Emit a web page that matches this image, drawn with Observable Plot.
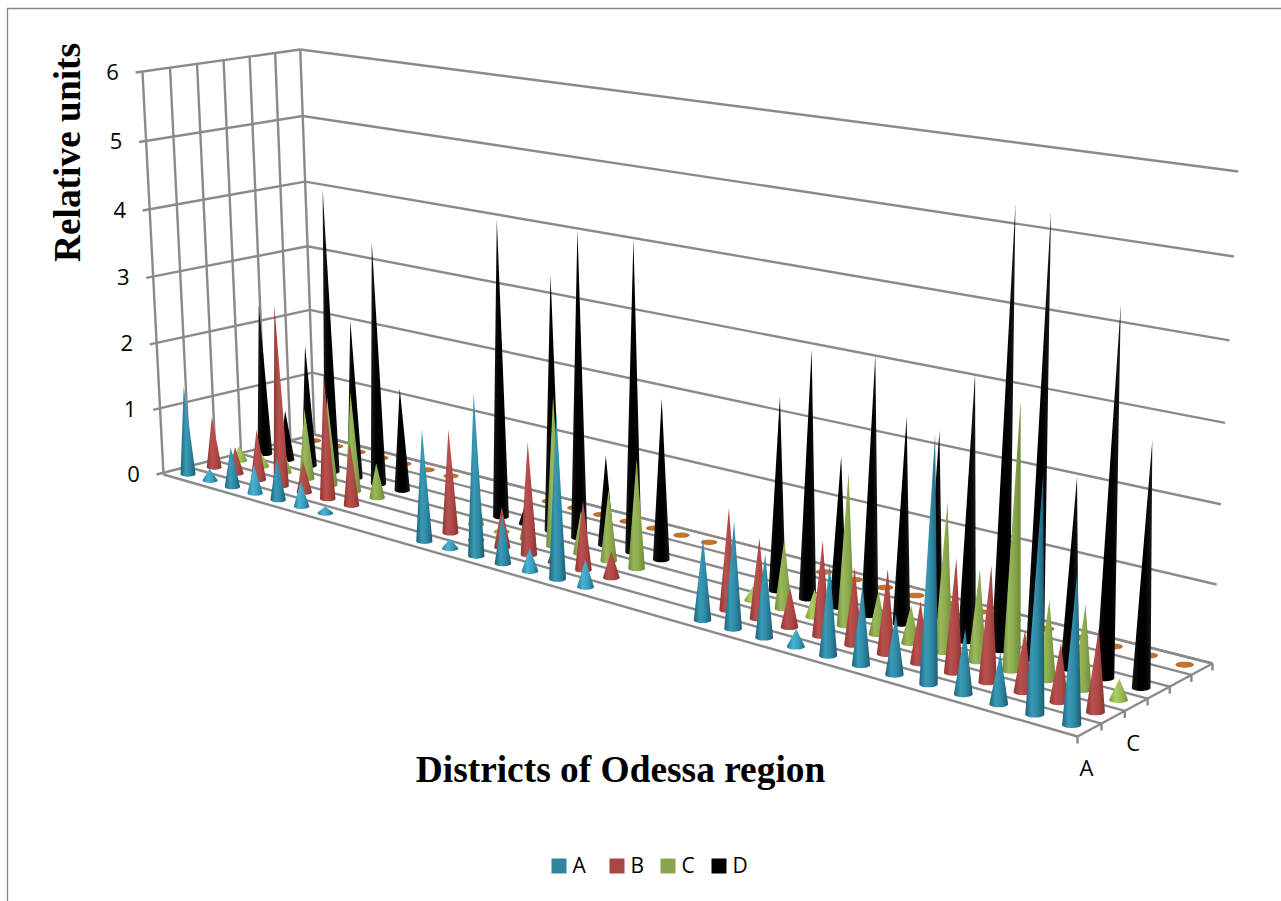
<!DOCTYPE html>
<html>
<head>
<meta charset="utf-8">
<style>html,body{margin:0;padding:0;background:#fff;overflow:hidden}</style>
<script src="https://cdn.jsdelivr.net/npm/d3@7"></script>
<script src="https://cdn.jsdelivr.net/npm/@observablehq/plot@0.6"></script>
</head>
<body>
<div id="chart"></div>
<script>
// ---- data (null = no cone at this district slot) ----
const seriesA = [1.36,0.18,0.61,0.43,0.64,0.37,0.1,null,null,null,1.6,0.14,2.29,0.68,0.32,2.29,0.37,null,null,null,1.09,1.41,1.09,0.23,1.18,1.02,0.77,3.08,0.81,0.64,2.9,1.87];
const seriesB = [0.79,0.41,0.77,2.72,0.47,1.86,0.96,null,null,null,1.49,0.15,0.58,1.59,0.32,0.96,0.37,null,null,null,1.36,1.07,0.53,1.24,1.0,1.09,0.8,1.44,1.46,0.77,0.73,1.02];
const seriesC = [0.23,0.21,0.37,1.07,1.33,1.5,0.52,null,null,null,0.53,0.06,0.53,2.13,0.61,1.0,1.52,null,null,null,0.19,0.92,0.37,2.0,0.57,0.49,1.91,1.17,3.35,1.0,1.06,0.26];
const seriesD = [2.34,0.77,1.86,4.27,2.4,3.63,1.54,null,null,null,4.27,0.32,3.63,4.32,1.27,4.32,2.24,null,null,null,2.61,3.31,2.0,3.39,2.7,2.61,3.41,5.55,5.52,2.4,4.56,3.03];
const seriesF = [0,0,0,0,0,0,0,null,null,null,0,0,0,0,0,0,0,null,null,null,0,0,0,0,0,0,0,0,0,0,0,0];
const valueTicks = [0,1,2,3,4,5,6];
const depthLabels = ["A","","C","","",""];
const legendNames = ["A","B","C","D"];
const legendColors = ["#31859C","#AA4644","#89A54E","#000000"];
const yTitle = "Relative units";
const xTitle = "Districts of Odessa region";

// ---- view of the 3D box ----
const W = 1281, H = 901, nCat = seriesA.length, nRow = 6, vMax = 6;
function quad([x0,y0],[x1,y1],[x2,y2],[x3,y3]) {
  const dx1=x1-x2, dx2=x3-x2, sx=x0-x1+x2-x3, dy1=y1-y2, dy2=y3-y2, sy=y0-y1+y2-y3;
  const det=dx1*dy2-dx2*dy1, g=(sx*dy2-dx2*sy)/det, h=(dx1*sy-sx*dy1)/det;
  const a=x1-x0+g*x1, b=x3-x0+h*x3, d=y1-y0+g*y1, e=y3-y0+h*y3;
  return (u,w)=>{const q=g*u+h*w+1; return [(a*u+b*w+x0)/q,(d*u+e*w+y0)/q];};
}
const floorView = quad([163,474],[1077,736],[1212,663],[314,434]);
const riseOf = v => v/(6.27-0.045*v);
const wallHeight = (u,w) => 402/(1-0.227*u+0.044*w);
const wallLean = x => -21+0.0446*(x-163);
function pt(u,w,v){
  const a=floorView(u,w), t=riseOf(v);
  return [a[0]+wallLean(a[0])*t, a[1]-wallHeight(u,w)*t];
}
const slotU = cat => { const u=(cat+0.52)/nCat; return 1.038*u/(1+0.038*u); };
const link = (p,q,extra={}) => ({x1:p[0],y1:p[1],x2:q[0],y2:q[1],...extra});

// ---- grid ----
const grid = [];
for (const v of valueTicks) {
  grid.push(link(pt(0,1,v),pt(1,1,v)));
  const p=pt(0,0,v);
  grid.push(link([p[0]-7,p[1]],pt(0,1,v)));
}
d3.range(nRow+1).forEach(k=>{
  const w=k/nRow;
  grid.push(link(pt(0,w,0),pt(0,w,vMax)));
  grid.push(link(pt(0,w,0),pt(1,w,0)));
  const p=pt(1,w,0);
  grid.push(link(p,[p[0],p[1]+7]));
});
grid.push(link(pt(1,0,0),pt(1,1,0)));

// ---- cones ----
function cone(cat,row,v,id){
  const u=slotU(cat), w=(row+0.5)/nRow;
  const c=pt(u,w,0), top=pt(u,w,v), unit=(c[1]-pt(u,w,vMax)[1])/vMax;
  const rx=0.112*unit, ry=rx*0.33;
  const ring=d3.range(36).map(i=>{const t=i/36*2*Math.PI; return [c[0]+rx*Math.cos(t),c[1]+ry*Math.sin(t)];});
  const hull=d3.polygonHull(v>0?[...ring,top]:ring);
  return hull.map(([x,y])=>({x,y,id}));
}
function polys(values,row,test){
  return values.flatMap((v,i)=>v==null||!test(v)?[]:cone(i,row,v,`${row}-${i}`));
}
const coneMark=(values,row,fill,test=()=>true)=>
  Plot.line(polys(values,row,test),{x:"x",y:"y",z:"id",fill,stroke:"none",curve:"linear"});
const small=v=>v<0.45, big=v=>v>=0.45;

// ---- gradients ----
const gradients={
  teal:["#1d6379","#3a9ab6","#2e88a3","#1c5c72"],
  tealL:["#267d9a","#4cb2d2","#389ebf","#226a84"],
  red:["#8d3634","#b9514e","#ab4744","#8a3331"],
  green:["#6f8a3a","#9ab95a","#8aa84c","#6d8738"],
  greenL:["#7f9e42","#aacf62","#96bc52","#76933c"],
  black:["#1a1a1a","#000000","#000000","#1a1a1a"],
  orange:["#b9672a","#c4752f","#c4752f","#b9672a"]
};
function defsMark(){
  const defs=d3.create("svg:defs");
  for(const [k,c] of Object.entries(gradients)){
    const g=defs.append("linearGradient").attr("id","g-"+k).attr("x1",0).attr("x2",1).attr("y1",0).attr("y2",0);
    [0,0.35,0.65,1].forEach((o,i)=>g.append("stop").attr("offset",o).attr("stop-color",c[i]));
  }
  return defs.node();
}

// ---- legend ----
const legendX=[558.5,616.5,667.5,718.5], legendY=865.5;
const legend=legendNames.map((name,i)=>({name,color:legendColors[i],x:legendX[i],y:legendY}));

const labelFont="'Open Sans', sans-serif";
const serif="'Liberation Serif', serif";

const chart=Plot.plot({
  width:W,height:H,margin:0,
  style:{background:"#fff"},
  x:{domain:[0,W],range:[0,W],axis:null},
  y:{domain:[0,H],range:[0,H],axis:null},
  marks:[
    defsMark,
    Plot.ruleX([7],{y1:8,y2:H,stroke:"#868686",strokeWidth:1.3}),
    Plot.ruleY([8],{x1:7,x2:W,stroke:"#868686",strokeWidth:1.3}),
    Plot.link(grid,{x1:"x1",y1:"y1",x2:"x2",y2:"y2",stroke:"#8a8a8a",strokeWidth:2.4}),
    coneMark(seriesF,5,"url(#g-orange)"),
    coneMark(seriesD,3,"url(#g-black)"),
    coneMark(seriesC,2,"url(#g-green)",big),
    coneMark(seriesC,2,"url(#g-greenL)",small),
    coneMark(seriesB,1,"url(#g-red)"),
    coneMark(seriesA,0,"url(#g-teal)",big),
    coneMark(seriesA,0,"url(#g-tealL)",small),
    Plot.text(valueTicks,{
      x:v=>pt(0,0,v)[0],y:v=>pt(0,0,v)[1],text:d=>String(d),
      dx:-30,fontSize:22,fontFamily:labelFont,fill:"#000",textAnchor:"middle"
    }),
    Plot.text(depthLabels.map((t,i)=>({t,i})).filter(d=>d.t),{
      x:d=>pt(1,(d.i+0.5)/nRow,0)[0],y:d=>pt(1,(d.i+0.5)/nRow,0)[1],text:"t",
      dx:-3,dy:39,fontSize:22,fontFamily:labelFont,fill:"#000",textAnchor:"middle"
    }),
    Plot.text([yTitle],{x:()=>68,y:()=>152,text:d=>d,rotate:-90,fontSize:37.4,fontWeight:"bold",fontFamily:serif,fill:"#000"}),
    Plot.text([xTitle],{x:()=>620,y:()=>770,text:d=>d,fontSize:37.4,fontWeight:"bold",fontFamily:serif,fill:"#000"}),
    Plot.dot(legend,{x:"x",y:"y",symbol:"square",r:8.46,fill:"color",stroke:"none"}),
    Plot.text(legend,{x:"x",y:"y",text:"name",dx:13.5,textAnchor:"start",fontSize:21,fontFamily:labelFont,fill:"#000"})
  ]
});
document.getElementById("chart").appendChild(chart);
</script>
</body>
</html>
